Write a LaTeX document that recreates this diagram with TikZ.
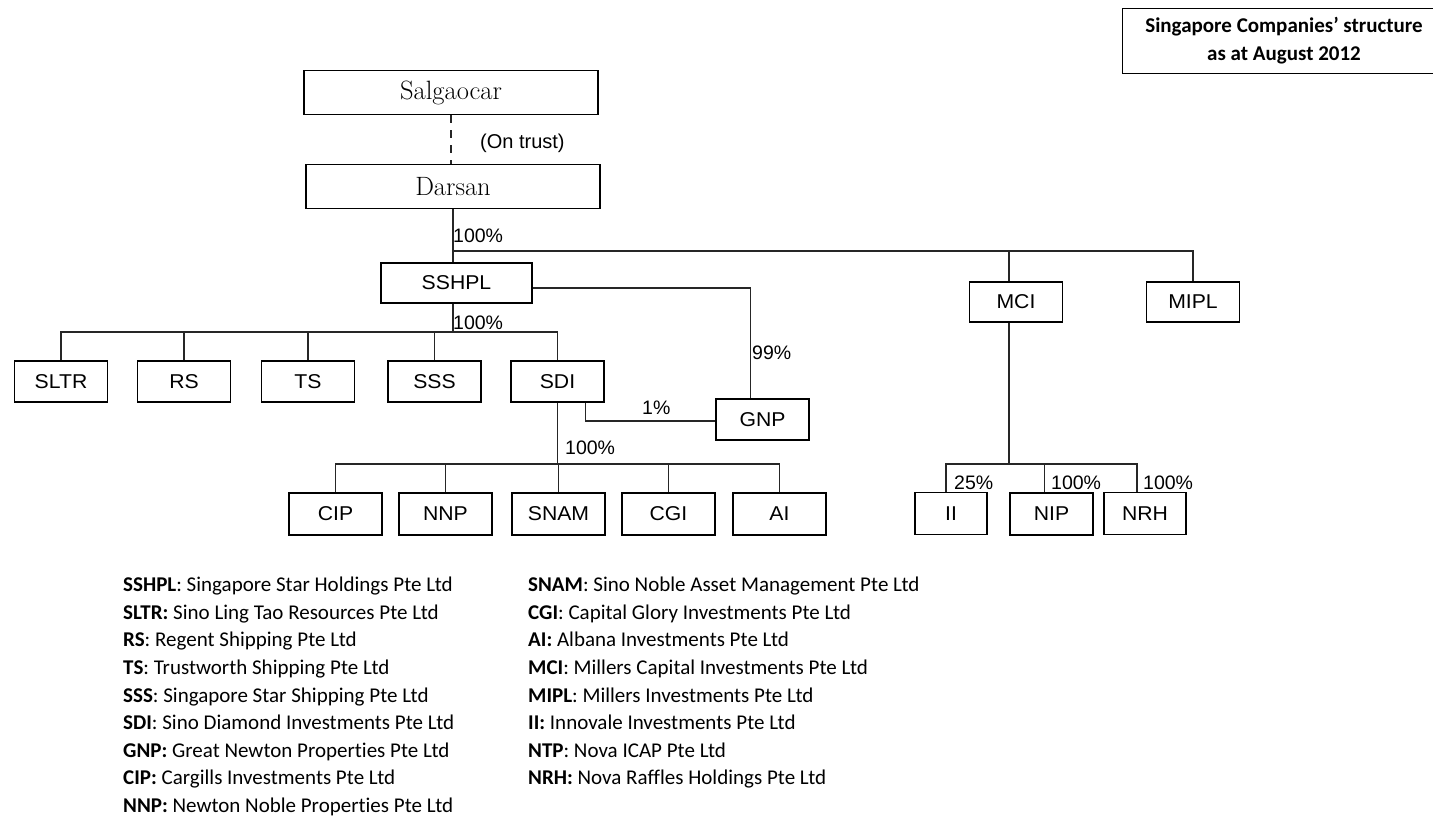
\documentclass[tikz,border=0pt]{standalone}
\usepackage{fontspec}
\newfontfamily\arialfont[FakeStretch=1.06]{Liberation Sans}
\newfontfamily\pctfont{Liberation Sans}
\newfontfamily\calfont[Ligatures=NoCommon]{Carlito}
\usetikzlibrary{calc}

\begin{document}
\begin{tikzpicture}[x=1pt, y=-1pt,
    capo/.style={draw, line width=1.8pt, minimum width=294pt, minimum height=44pt, inner sep=0pt, font=\fontsize{26.5}{30}\selectfont},
    ente/.style={draw, line width=1.8pt, minimum width=93pt, minimum height=41pt, inner sep=0pt, font=\arialfont\fontsize{20}{24}\selectfont},
    link/.style={line width=1.1pt, black!85},
    pct/.style={anchor=west, inner sep=1pt, font=\pctfont\fontsize{19.5}{22}\selectfont},
    legenda/.style={anchor=base west, inner sep=0pt, font=\calfont\fontsize{21}{26}\selectfont}]
    % Parametri
    \pgfmathsetmacro{\rigaA}{381.5}
    \pgfmathsetmacro{\rigaB}{514}
    \pgfmathsetmacro{\interlinea}{27.6}
    \useasboundingbox (0,0) rectangle (1433,817);

    % Titolo
    \node[draw, line width=0.8pt, minimum width=324pt, minimum height=65pt, align=center,
        font=\calfont\bfseries\fontsize{21}{27.4}\selectfont] (titolo) at (1284,40.5)
        {Singapore Companies’ structure\\as at August 2012};

    % Riquadri
    \node[capo] (sal) at (451,92.5) {Salgaocar};
    \node[capo] (dar) at (453,186.5) {Darsan};
    \node[ente, minimum width=151pt, minimum height=40pt] (SSHPL) at (456.5,283) {SSHPL};
    \foreach \nome/\x in {SLTR/61, RS/184, TS/308, SSS/434.5, SDI/557.5}
        \node[ente] (\nome) at (\x,\rigaA) {\nome};
    \node[ente] (GNP) at (762.5,419.5) {GNP};
    \foreach \nome/\x in {CIP/335.5, NNP/445.5, SNAM/558.5, CGI/668.5, AI/779.5}
        \node[ente, minimum height=42pt] (\nome) at (\x,\rigaB) {\nome};
    \node[ente, minimum height=40pt] (MCI) at (1016,302) {MCI};
    \node[ente, minimum height=40pt] (MIPL) at (1193,302) {MIPL};
    \node[ente, minimum width=72pt, minimum height=42pt] (II) at (951,513.5) {II};
    \node[ente, minimum width=83pt, minimum height=42pt] (NIP) at (1051.5,514) {NIP};
    \node[ente, minimum width=82pt, minimum height=42pt] (NRH) at (1145,513.5) {NRH};

    % Collegamenti
    \coordinate (linea) at (0,251);
    \coordinate (busA) at (453,332);
    \coordinate (busB) at (557.5,464);
    \coordinate (busC) at (1009,464);
    \draw[link, dash pattern=on 8pt off 7pt] (sal.south) -- (sal.south |- dar.north);
    \node[pct, font=\pctfont\fontsize{20}{22}\selectfont] (trust) at (479,143) {(On trust)};
    \draw[link] (dar.south) -- (dar.south |- SSHPL.north);
    \draw[link] (dar.south |- linea) -| (MIPL.north);
    \draw[link] ([xshift=-7pt]MCI.north) -- ([xshift=-7pt]MCI.north |- linea);
    \node[pct] (pDar) at (452,236) {100\%};
    % SSHPL
    \draw[link] (busA |- SSHPL.south) -- (busA);
    \draw[link] (SLTR.north) |- (busA) -| (SDI.north);
    \foreach \nome in {RS, TS, SSS}
        \draw[link] (\nome.north) -- (\nome.north |- busA);
    \node[pct] (pSSHPL) at (452,323) {100\%};
    \draw[link] ([yshift=-5pt]SSHPL.east) -| ([xshift=-12pt]GNP.north);
    \node[pct] (pGNPa) at (751,353) {99\%};
    % SDI
    \draw[link] ([xshift=-19pt]SDI.south east) |- ([yshift=-1.5pt]GNP.west);
    \node[pct] (pGNPb) at (641,408) {1\%};
    \draw[link] (SDI.south) -- (SDI.south |- busB);
    \draw[link] (CIP.north) |- (busB) -| (AI.north);
    \foreach \nome in {NNP, SNAM, CGI}
        \draw[link] (\nome.north) -- (\nome.north |- busB);
    \node[pct] (pSDI) at (564,448) {100\%};
    % MCI
    \draw[link] ([xshift=-7pt]MCI.south) -- (busC);
    \draw[link] ([xshift=-5pt]II.north) |- (busC) -| ([xshift=-8pt]NRH.north);
    \draw[link] ([xshift=-7pt]NIP.north) -- ([xshift=-7pt]NIP.north |- busC);
    \node[pct] (pII) at (953,483) {25\%};
    \node[pct] (pNIP) at (1050,483) {100\%};
    \node[pct] (pNRH) at (1142,483) {100\%};

    % Legenda
    \foreach \voce [count=\i] in {
        {\textbf{SSHPL}: Singapore Star Holdings Pte Ltd},
        {\textbf{SLTR:} Sino Ling Tao Resources Pte Ltd},
        {\textbf{RS}: Regent Shipping Pte Ltd},
        {\textbf{TS}: Trustworth Shipping Pte Ltd},
        {\textbf{SSS}: Singapore Star Shipping Pte Ltd},
        {\textbf{SDI}: Sino Diamond Investments Pte Ltd},
        {\textbf{GNP:} Great Newton Properties Pte Ltd},
        {\textbf{CIP:} Cargills Investments Pte Ltd},
        {\textbf{NNP:} Newton Noble Properties Pte Ltd}}
        \node[legenda] (legA\i) at (123,{591.7+\interlinea*(\i-1)}) {\voce};
    \foreach \voce [count=\i] in {
        {\textbf{SNAM}: Sino Noble Asset Management Pte Ltd},
        {\textbf{CGI}: Capital Glory Investments Pte Ltd},
        {\textbf{AI:} Albana Investments Pte Ltd},
        {\textbf{MCI}: Millers Capital Investments Pte Ltd},
        {\textbf{MIPL}: Millers Investments Pte Ltd},
        {\textbf{II:} Innovale Investments Pte Ltd},
        {\textbf{NTP}: Nova ICAP Pte Ltd},
        {\textbf{NRH:} Nova Raffles Holdings Pte Ltd}}
        \node[legenda] (legB\i) at (528,{591.7+\interlinea*(\i-1)}) {\voce};
\end{tikzpicture}
\end{document}
